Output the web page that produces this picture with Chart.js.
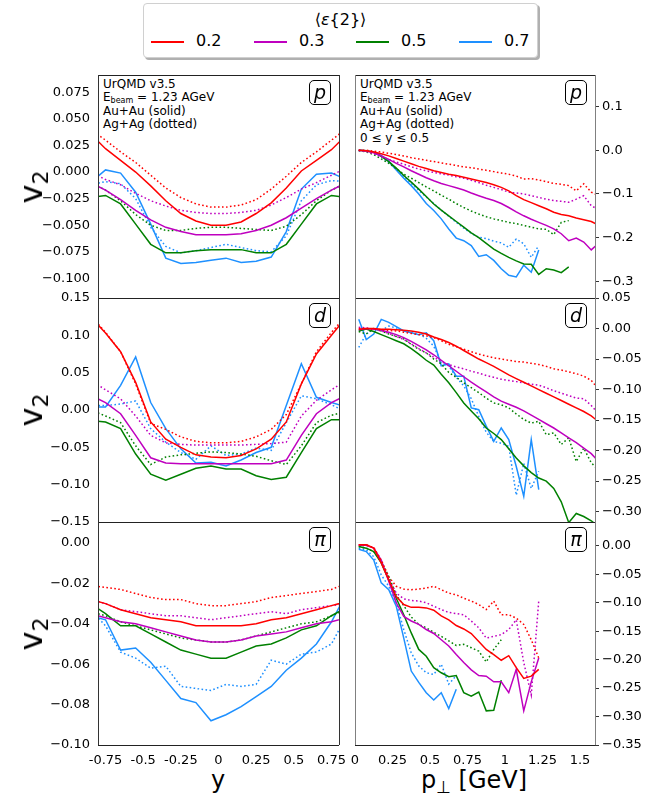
<!DOCTYPE html>
<html>
<head>
<meta charset="utf-8">
<script src="https://cdn.jsdelivr.net/npm/chart.js@4.4.1/dist/chart.umd.min.js"></script>
<style>
  html, body { margin: 0; padding: 0; background: #fff; }
  body { width: 657px; height: 797px; position: relative; overflow: hidden; font-family: "DejaVu Sans", sans-serif; color: #000; }
  canvas { position: absolute; }
  .info { position: absolute; font-size: 12px; line-height: 13.4px; white-space: nowrap; }
  .info sub { font-size: 8px; vertical-align: -2px; line-height: 0; }
  .tag { position: absolute; width: 20px; height: 23px; border: 1px solid #000; border-radius: 5px; background: #fff;
         font-size: 19px; font-style: italic; text-align: center; line-height: 22px; }
  .ylab { position: absolute; font-size: 32px; white-space: nowrap; transform: translate(-50%, -50%) rotate(-90deg); }
  .ylab sub { font-size: 22px; vertical-align: -6px; line-height: 0; }
  .xlab { position: absolute; font-size: 24px; white-space: nowrap; transform: translateX(-50%); }
  .xlab sub { font-size: 17px; vertical-align: -5px; line-height: 0; }
  #legend { position: absolute; left: 143px; top: 3px; width: 393px; height: 53px; border: 1px solid #d0d0d0; border-radius: 4px;
            box-shadow: 2px 2px 0 #b0b0b0; background: #fff; }
  #legend .ltitle { position: absolute; left: 0; right: 0; top: 6px; text-align: center; font-size: 16px; }
  #legend .lline { position: absolute; top: 37px; width: 33px; height: 1.5px; }
  #legend .ltext { position: absolute; top: 28px; font-size: 16px; line-height: 18px; }
</style>
</head>
<body>
<div id="legend"><div class="ltitle">⟨<i>ε</i>{2}⟩</div></div>

<div class="info" style="left:103px; top:78px">UrQMD v3.5<br>E<sub>beam</sub> = 1.23 AGeV<br>Au+Au (solid)<br>Ag+Ag (dotted)</div>
<div class="info" style="left:360px; top:78px">UrQMD v3.5<br>E<sub>beam</sub> = 1.23 AGeV<br>Au+Au (solid)<br>Ag+Ag (dotted)<br>0 ≤ y ≤ 0.5</div>

<div class="xlab" style="left:218px; top:766px">y</div>
<div class="xlab" style="left:474px; top:766px">p<sub>⊥</sub> [GeV]</div>

<script>
// colours and legend entries, one per eccentricity class
const colors = ['#ff0000', '#bf00bf', '#008000', '#1e90ff'];
const eccLabels = ['0.2', '0.3', '0.5', '0.7'];

// bin centres
const yBins = [-0.85, -0.75, -0.65, -0.55, -0.45, -0.35, -0.25, -0.15, -0.05,
  0.05, 0.15, 0.25, 0.35, 0.45, 0.55, 0.65, 0.75, 0.85];
const ptBins = [0.025, 0.075, 0.125, 0.175, 0.225, 0.275, 0.325, 0.375, 0.425, 0.475,
  0.525, 0.575, 0.625, 0.675, 0.725, 0.775, 0.825, 0.875, 0.925, 0.975,
  1.025, 1.075, 1.125, 1.175, 1.225, 1.275, 1.325, 1.375, 1.425, 1.475,
  1.525, 1.575, 1.625];

// x tick labels
const yTickVals = [-0.75, -0.5, -0.25, 0, 0.25, 0.5, 0.75];
const yTickText = ['-0.75', '-0.5', '-0.25', '0', '0.25', '0.5', '0.75'];
const ptTickVals = [0, 0.25, 0.5, 0.75, 1, 1.25, 1.5];
const ptTickText = ['0', '0.25', '0.5', '0.75', '1', '1.25', '1.5'];

// v2 tick values per panel
const ticksProtonY = [0.075, 0.05, 0.025, 0, -0.025, -0.05, -0.075, -0.1];
const ticksDeuteronY = [0.15, 0.1, 0.05, 0, -0.05, -0.1, -0.15];
const ticksPionY = [0, -0.02, -0.04, -0.06, -0.08, -0.1];
const ticksProtonPt = [0.1, 0, -0.1, -0.2, -0.3];
const ticksDeuteronPt = [0.05, 0, -0.05, -0.1, -0.15, -0.2, -0.25, -0.3];
const ticksPionPt = [0, -0.05, -0.1, -0.15, -0.2, -0.25, -0.3, -0.35];

// v2 vs rapidity, rows are eps{2} = 0.2, 0.3, 0.5, 0.7
const protonY_AuAu = [
  [0.036, 0.022, 0.011, 0.000, -0.013, -0.027, -0.039, -0.046, -0.050, -0.050, -0.047, -0.039, -0.029, -0.015, 0.001, 0.011, 0.021, 0.035],
  [-0.010, -0.017, -0.026, -0.036, -0.045, -0.052, -0.056, -0.059, -0.059, -0.059, -0.058, -0.055, -0.050, -0.043, -0.034, -0.025, -0.017, -0.010],
  [-0.024, -0.022, -0.030, -0.049, -0.068, -0.076, -0.076, -0.074, -0.073, -0.073, -0.073, -0.076, -0.076, -0.068, -0.049, -0.030, -0.022, -0.024],
  [-0.010, 0.002, -0.001, -0.019, -0.049, -0.081, -0.086, -0.085, -0.083, -0.081, -0.085, -0.084, -0.080, -0.056, -0.016, -0.002, -0.001, -0.007],
];
const protonY_AgAg = [
  [0.040, 0.030, 0.019, 0.009, -0.003, -0.015, -0.024, -0.030, -0.033, -0.033, -0.031, -0.026, -0.016, -0.004, 0.009, 0.019, 0.030, 0.041],
  [0.000, -0.007, -0.012, -0.020, -0.027, -0.032, -0.036, -0.038, -0.039, -0.039, -0.038, -0.036, -0.031, -0.024, -0.016, -0.010, -0.003, 0.004],
  [-0.010, -0.017, -0.027, -0.040, -0.050, -0.055, -0.055, -0.053, -0.052, -0.052, -0.053, -0.054, -0.055, -0.051, -0.040, -0.027, -0.017, -0.010],
  [-0.012, -0.009, -0.011, -0.025, -0.052, -0.070, -0.076, -0.074, -0.071, -0.068, -0.071, -0.074, -0.075, -0.060, -0.027, -0.012, -0.008, -0.009],
];
const deuteronY_AuAu = [
  [0.125, 0.103, 0.078, 0.037, -0.016, -0.039, -0.050, -0.060, -0.063, -0.064, -0.061, -0.052, -0.039, -0.016, 0.035, 0.075, 0.100, 0.125],
  [0.020, 0.010, -0.005, -0.034, -0.064, -0.071, -0.072, -0.072, -0.072, -0.072, -0.072, -0.072, -0.072, -0.067, -0.034, -0.005, 0.010, 0.020],
  [-0.014, -0.016, -0.025, -0.059, -0.086, -0.094, -0.086, -0.078, -0.075, -0.079, -0.079, -0.088, -0.093, -0.090, -0.057, -0.025, -0.013, -0.013],
  [0.004, 0.004, 0.033, 0.071, 0.010, -0.025, -0.052, -0.071, -0.070, -0.075, -0.067, -0.057, -0.050, 0.006, 0.062, 0.017, 0.010, 0.004],
];
const deuteronY_AgAg = [
  [0.127, 0.104, 0.078, 0.035, -0.018, -0.026, -0.036, -0.042, -0.044, -0.044, -0.042, -0.036, -0.026, -0.006, 0.035, 0.078, 0.104, 0.127],
  [0.040, 0.027, 0.015, -0.008, -0.034, -0.044, -0.046, -0.047, -0.047, -0.047, -0.047, -0.046, -0.045, -0.043, -0.008, 0.013, 0.027, 0.040],
  [0.000, -0.008, -0.017, -0.048, -0.073, -0.063, -0.060, -0.058, -0.056, -0.057, -0.059, -0.062, -0.068, -0.073, -0.048, -0.017, -0.007, -0.002],
  [0.006, 0.006, 0.008, 0.012, -0.025, -0.043, -0.057, -0.066, -0.048, -0.061, -0.059, -0.051, -0.054, -0.017, 0.019, 0.015, 0.007, -0.003],
];
const pionY_AuAu = [
  [-0.028, -0.030, -0.033, -0.035, -0.037, -0.038, -0.039, -0.041, -0.041, -0.041, -0.041, -0.040, -0.038, -0.037, -0.035, -0.033, -0.031, -0.029],
  [-0.035, -0.037, -0.039, -0.040, -0.042, -0.044, -0.046, -0.048, -0.049, -0.049, -0.048, -0.046, -0.045, -0.044, -0.042, -0.040, -0.039, -0.037],
  [-0.030, -0.035, -0.041, -0.041, -0.045, -0.049, -0.053, -0.055, -0.057, -0.057, -0.054, -0.051, -0.050, -0.047, -0.043, -0.041, -0.036, -0.032],
  [-0.036, -0.038, -0.053, -0.052, -0.059, -0.068, -0.077, -0.079, -0.088, -0.085, -0.081, -0.076, -0.071, -0.063, -0.057, -0.050, -0.039, -0.025],
];
const pionY_AgAg = [
  [-0.021, -0.022, -0.023, -0.025, -0.027, -0.028, -0.028, -0.030, -0.031, -0.031, -0.030, -0.029, -0.027, -0.026, -0.025, -0.024, -0.023, -0.020],
  [-0.028, -0.030, -0.033, -0.034, -0.035, -0.036, -0.036, -0.037, -0.038, -0.037, -0.036, -0.035, -0.034, -0.035, -0.033, -0.032, -0.031, -0.030],
  [-0.034, -0.036, -0.039, -0.041, -0.043, -0.045, -0.047, -0.048, -0.049, -0.049, -0.048, -0.046, -0.044, -0.042, -0.040, -0.039, -0.036, -0.033],
  [-0.033, -0.041, -0.054, -0.057, -0.062, -0.061, -0.071, -0.072, -0.073, -0.070, -0.071, -0.070, -0.058, -0.060, -0.055, -0.054, -0.050, -0.036],
];

// v2 vs transverse momentum (0 <= y <= 0.5); shorter rows stop where the curve stops
const protonPt_AuAu = [
  [0.000, -0.001, -0.004, -0.008, -0.013, -0.019, -0.025, -0.031, -0.037, -0.042, -0.047, -0.051, -0.055, -0.058, -0.062, -0.066, -0.070,
    -0.074, -0.079, -0.085, -0.093, -0.104, -0.113, -0.120, -0.127, -0.134, -0.142, -0.147, -0.150, -0.155, -0.159, -0.163, -0.172],
  [0.000, -0.002, -0.006, -0.013, -0.021, -0.030, -0.038, -0.047, -0.055, -0.063, -0.070, -0.076, -0.081, -0.086, -0.091, -0.098, -0.104,
    -0.110, -0.115, -0.122, -0.131, -0.141, -0.150, -0.158, -0.165, -0.172, -0.180, -0.191, -0.207, -0.201, -0.210, -0.228, -0.212],
  [0.000, -0.001, -0.005, -0.014, -0.026, -0.041, -0.058, -0.073, -0.089, -0.106, -0.123, -0.137, -0.150, -0.163, -0.176, -0.189, -0.200,
    -0.213, -0.226, -0.236, -0.245, -0.253, -0.260, -0.261, -0.284, -0.271, -0.274, -0.280, -0.267],
  [0.000, -0.001, -0.004, -0.012, -0.025, -0.045, -0.064, -0.081, -0.100, -0.122, -0.138, -0.157, -0.180, -0.201, -0.207, -0.218, -0.243,
    -0.239, -0.252, -0.271, -0.286, -0.290, -0.263, -0.279, -0.228],
];
const protonPt_AgAg = [
  [0.000, 0.000, -0.002, -0.004, -0.007, -0.010, -0.013, -0.017, -0.020, -0.023, -0.026, -0.029, -0.032, -0.035, -0.038, -0.040, -0.043,
    -0.046, -0.049, -0.052, -0.055, -0.059, -0.066, -0.065, -0.068, -0.072, -0.076, -0.078, -0.081, -0.093, -0.077, -0.096, -0.104],
  [-0.001, -0.003, -0.008, -0.015, -0.021, -0.027, -0.032, -0.038, -0.043, -0.047, -0.051, -0.054, -0.057, -0.061, -0.064, -0.069, -0.074,
    -0.080, -0.085, -0.090, -0.096, -0.098, -0.100, -0.104, -0.108, -0.112, -0.115, -0.117, -0.119, -0.112, -0.104, -0.127, -0.136],
  [-0.001, -0.004, -0.010, -0.020, -0.030, -0.042, -0.055, -0.064, -0.074, -0.084, -0.093, -0.103, -0.112, -0.122, -0.131, -0.139, -0.146,
    -0.152, -0.157, -0.161, -0.165, -0.168, -0.172, -0.176, -0.180, -0.181, -0.193, -0.165, -0.161],
  [0.000, -0.002, -0.006, -0.015, -0.028, -0.044, -0.060, -0.076, -0.092, -0.107, -0.122, -0.137, -0.151, -0.165, -0.178, -0.190, -0.199,
    -0.202, -0.208, -0.212, -0.222, -0.203, -0.214, -0.245, -0.218],
];
const deuteronPt_AuAu = [
  [-0.001, 0.000, 0.000, -0.001, -0.001, -0.002, -0.003, -0.004, -0.006, -0.009, -0.014, -0.018, -0.023, -0.029, -0.036, -0.043, -0.050,
    -0.056, -0.062, -0.069, -0.076, -0.082, -0.088, -0.094, -0.100, -0.106, -0.112, -0.118, -0.124, -0.130, -0.136, -0.143, -0.153],
  [-0.002, 0.000, -0.001, -0.003, -0.006, -0.010, -0.015, -0.021, -0.028, -0.035, -0.043, -0.052, -0.061, -0.070, -0.079, -0.088, -0.096,
    -0.104, -0.112, -0.119, -0.124, -0.129, -0.135, -0.142, -0.149, -0.156, -0.163, -0.171, -0.179, -0.187, -0.196, -0.205, -0.218],
  [-0.004, -0.001, -0.005, -0.010, -0.015, -0.020, -0.025, -0.033, -0.042, -0.052, -0.060, -0.075, -0.089, -0.105, -0.122, -0.135, -0.148,
    -0.163, -0.172, -0.182, -0.197, -0.212, -0.225, -0.236, -0.245, -0.250, -0.262, -0.284, -0.318, -0.303, -0.308, -0.315, -0.325],
  [0.015, -0.018, -0.009, 0.015, 0.010, 0.003, -0.004, -0.007, -0.010, -0.007, -0.020, -0.061, -0.058, -0.078, -0.078, -0.130, -0.133,
    -0.160, -0.185, -0.163, -0.182, -0.226, -0.275, -0.182, -0.264],
];
const deuteronPt_AgAg = [
  [0.000, 0.000, -0.001, -0.002, -0.003, -0.004, -0.006, -0.008, -0.010, -0.012, -0.015, -0.020, -0.026, -0.030, -0.034, -0.038, -0.042,
    -0.045, -0.048, -0.050, -0.052, -0.054, -0.055, -0.057, -0.059, -0.062, -0.066, -0.068, -0.071, -0.074, -0.078, -0.085, -0.100],
  [0.002, 0.001, -0.001, -0.004, -0.008, -0.013, -0.018, -0.025, -0.033, -0.040, -0.047, -0.054, -0.059, -0.063, -0.066, -0.070, -0.073,
    -0.077, -0.080, -0.083, -0.085, -0.087, -0.089, -0.091, -0.093, -0.097, -0.102, -0.106, -0.110, -0.114, -0.115, -0.126, -0.140],
  [-0.005, -0.009, 0.000, -0.004, -0.009, -0.013, -0.017, -0.026, -0.034, -0.040, -0.050, -0.058, -0.072, -0.080, -0.089, -0.097, -0.105,
    -0.114, -0.122, -0.125, -0.130, -0.140, -0.149, -0.155, -0.152, -0.174, -0.171, -0.190, -0.179, -0.218, -0.196, -0.220, -0.232],
  [-0.031, -0.009, -0.001, -0.003, 0.004, 0.001, -0.004, -0.006, -0.009, -0.016, -0.029, -0.056, -0.061, -0.080, -0.094, -0.115, -0.144,
    -0.170, -0.185, -0.188, -0.193, -0.273, -0.221, -0.262, -0.234],
];
const pionPt_AuAu = [
  [0.002, 0.002, -0.004, -0.030, -0.060, -0.089, -0.103, -0.108, -0.108, -0.109, -0.113, -0.123, -0.130, -0.140, -0.146, -0.154, -0.168,
    -0.182, -0.191, -0.201, -0.193, -0.214, -0.233, -0.229, -0.217],
  [0.001, 0.001, -0.004, -0.025, -0.062, -0.100, -0.124, -0.132, -0.138, -0.147, -0.154, -0.165, -0.176, -0.191, -0.205, -0.218, -0.228,
    -0.229, -0.239, -0.239, -0.258, -0.217, -0.290, -0.239, -0.197],
  [-0.001, -0.004, -0.010, -0.030, -0.060, -0.092, -0.121, -0.153, -0.182, -0.194, -0.214, -0.223, -0.230, -0.228, -0.258, -0.264, -0.257,
    -0.290, -0.289, -0.236],
  [-0.006, -0.010, -0.025, -0.065, -0.077, -0.106, -0.162, -0.220, -0.240, -0.258, -0.271, -0.258, -0.286, -0.252],
];
const pionPt_AgAg = [
  [0.002, 0.002, -0.003, -0.025, -0.054, -0.071, -0.076, -0.077, -0.076, -0.074, -0.071, -0.077, -0.083, -0.086, -0.092, -0.097, -0.103,
    -0.112, -0.097, -0.121, -0.121, -0.127, -0.138, -0.165, -0.197],
  [0.001, 0.001, -0.003, -0.028, -0.058, -0.083, -0.093, -0.096, -0.097, -0.100, -0.106, -0.112, -0.117, -0.119, -0.121, -0.132, -0.144,
    -0.162, -0.159, -0.156, -0.147, -0.130, -0.205, -0.262, -0.097],
  [-0.001, -0.004, -0.010, -0.027, -0.054, -0.086, -0.105, -0.125, -0.138, -0.144, -0.152, -0.159, -0.167, -0.175, -0.173, -0.179, -0.185,
    -0.204, -0.182, -0.165],
  [-0.004, -0.007, -0.019, -0.051, -0.071, -0.100, -0.147, -0.188, -0.211, -0.223, -0.226, -0.208, -0.243, -0.228],
];

// layout: left column is v2(y), right column is v2(pT)
const rowTop = [75, 298, 522];
const rowBottom = [298, 522, 745];
const cols = [
  { left: 0, width: 345, padL: 0, padR: 6, side: 'left', axisW: 98, xs: yBins, xMin: -0.8, xMax: 0.8, xTicks: yTickVals, xText: yTickText },
  { left: 349, width: 308, padL: 6, padR: 0, side: 'right', axisW: 62, xs: ptBins, xMin: 0, xMax: 1.6, xTicks: ptTickVals, xText: ptTickText },
];
const panels = [
  { row: 0, col: 0, tag: 'p', auau: protonY_AuAu, agag: protonY_AgAg, yMin: -0.1185, yMax: 0.0913, ticks: ticksProtonY, dec: 3 },
  { row: 0, col: 1, tag: 'p', auau: protonPt_AuAu, agag: protonPt_AgAg, yMin: -0.338, yMax: 0.172, ticks: ticksProtonPt, dec: 1 },
  { row: 1, col: 0, tag: 'd', auau: deuteronY_AuAu, agag: deuteronY_AgAg, yMin: -0.15, yMax: 0.15, ticks: ticksDeuteronY, dec: 2 },
  { row: 1, col: 1, tag: 'd', auau: deuteronPt_AuAu, agag: deuteronPt_AgAg, yMin: -0.317, yMax: 0.05, ticks: ticksDeuteronPt, dec: 2 },
  { row: 2, col: 0, tag: 'π', auau: pionY_AuAu, agag: pionY_AgAg, yMin: -0.1, yMax: 0.0104, ticks: ticksPionY, dec: 2 },
  { row: 2, col: 1, tag: 'π', auau: pionPt_AuAu, agag: pionPt_AgAg, yMin: -0.35, yMax: 0.042, ticks: ticksPionPt, dec: 2 },
];

function fmt(v, dec) {
  const s = Math.abs(v).toFixed(dec);
  return v < -1e-9 ? '\u2212' + s : s;
}

function points(xs, ys) {
  return ys.map((v, i) => ({ x: xs[i], y: v }));
}

// draws the axes box on top of the curves, like matplotlib spines
function framePlugin(vColor) {
  return {
    id: 'frame',
    afterDatasetsDraw(chart) {
      const { ctx, chartArea: a } = chart;
      ctx.save();
      ctx.lineWidth = 1;
      ctx.strokeStyle = '#222';
      ctx.beginPath();
      ctx.moveTo(a.left, a.top + 0.5); ctx.lineTo(a.right, a.top + 0.5);
      ctx.moveTo(a.left, a.bottom + 0.5); ctx.lineTo(a.right, a.bottom + 0.5);
      ctx.stroke();
      ctx.strokeStyle = vColor;
      ctx.beginPath();
      ctx.moveTo(a.left + 0.5, a.top); ctx.lineTo(a.left + 0.5, a.bottom);
      ctx.moveTo(a.right + 0.5, a.top); ctx.lineTo(a.right + 0.5, a.bottom);
      ctx.stroke();
      ctx.restore();
    },
  };
}

const tickFont = { family: 'DejaVu Sans', size: 13 };

panels.forEach((p) => {
  const c = cols[p.col];
  const T = rowTop[p.row];
  const B = rowBottom[p.row];
  const last = p.row === 2;
  const top = T - 12;
  const height = last ? 797 - top : B - T + 24;
  const xAxisH = 30;
  const padBottom = last ? height - 12 - (B - T) - xAxisH : 12;

  const canvas = document.createElement('canvas');
  canvas.width = c.width;
  canvas.height = height;
  canvas.style.left = c.left + 'px';
  canvas.style.top = top + 'px';
  document.body.appendChild(canvas);

  const datasets = [];
  for (let i = 0; i < 4; i += 1) {
    datasets.push({
      data: points(c.xs, p.auau[i]),
      borderColor: colors[i],
      borderWidth: 1.5,
      pointRadius: 0,
      tension: 0,
      clip: 0,
    });
    datasets.push({
      data: points(c.xs, p.agag[i]),
      borderColor: colors[i],
      borderWidth: 1.5,
      borderDash: [1.6, 2.4],
      pointRadius: 0,
      tension: 0,
      clip: 0,
    });
  }

  const right = c.side === 'right';

  // eslint-disable-next-line no-new
  new Chart(canvas.getContext('2d'), {
    type: 'line',
    data: { datasets },
    options: {
      responsive: false,
      animation: false,
      events: [],
      layout: { padding: { left: c.padL, right: c.padR, top: 12, bottom: padBottom } },
      plugins: { legend: { display: false }, tooltip: { enabled: false } },
      scales: {
        x: {
          type: 'linear',
          min: c.xMin,
          max: c.xMax,
          display: last,
          grid: { display: false, drawTicks: false },
          border: { display: false },
          afterBuildTicks(scale) { scale.ticks = c.xTicks.map((v) => ({ value: v })); },
          afterFit(scale) {
            scale.height = last ? xAxisH : 0;
            scale.paddingLeft = 0;
            scale.paddingRight = 0;
          },
          ticks: {
            autoSkip: false,
            maxRotation: 0,
            padding: 8,
            color: '#000',
            font: tickFont,
            callback: (v) => c.xText[c.xTicks.indexOf(v)],
          },
        },
        y: {
          type: 'linear',
          position: c.side,
          min: p.yMin,
          max: p.yMax,
          grid: right
            ? { display: true, drawOnChartArea: false, drawTicks: true, tickLength: 4, color: '#333', lineWidth: 1 }
            : { display: false, drawTicks: false },
          border: { display: false },
          afterBuildTicks(scale) { scale.ticks = p.ticks.map((v) => ({ value: v })); },
          afterFit(scale) {
            scale.width = c.axisW;
            scale.paddingTop = 0;
            scale.paddingBottom = 0;
          },
          ticks: {
            autoSkip: false,
            padding: right ? 3 : 8,
            color: '#000',
            font: tickFont,
            callback: (v) => fmt(v, p.dec),
          },
        },
      },
    },
    plugins: [framePlugin(right ? '#808080' : '#333')],
  });

  // particle tag in the upper right corner
  const tag = document.createElement('div');
  tag.className = 'tag';
  tag.textContent = p.tag;
  const areaRight = right ? 595 : 339;
  tag.style.left = (areaRight - 30) + 'px';
  tag.style.top = (T + 5) + 'px';
  document.body.appendChild(tag);

  if (!right) {
    const lab = document.createElement('div');
    lab.className = 'ylab';
    lab.innerHTML = 'v<sub>2</sub>';
    lab.style.left = '31px';
    lab.style.top = ((T + B) / 2) + 'px';
    document.body.appendChild(lab);
  }
});

// legend entries
const legend = document.getElementById('legend');
const lineX = [7, 110, 212, 315];
eccLabels.forEach((label, i) => {
  const line = document.createElement('span');
  line.className = 'lline';
  line.style.left = lineX[i] + 'px';
  line.style.background = colors[i];
  legend.appendChild(line);
  const text = document.createElement('span');
  text.className = 'ltext';
  text.style.left = (lineX[i] + 45) + 'px';
  text.textContent = label;
  legend.appendChild(text);
});
</script>
</body>
</html>
